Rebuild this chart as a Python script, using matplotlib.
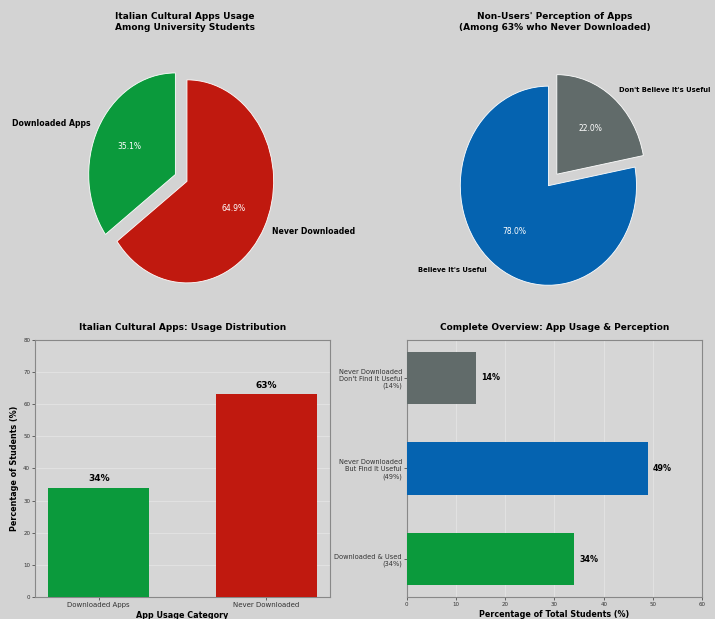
import matplotlib
matplotlib.use("Agg")
import matplotlib.pyplot as plt

# Data
usage_labels = ["Downloaded Apps", "Never Downloaded"]
usage_values = [34, 63]
perception_labels = ["Believe It's Useful", "Don't Believe It's Useful"]
perception_values = [78, 22]
overview_labels = ["Downloaded & Used\n(34%)",
                   "Never Downloaded\nBut Find It Useful\n(49%)",
                   "Never Downloaded\nDon't Find It Useful\n(14%)"]
overview_values = [34, 49, 14]

GREEN = "#0b9a3c"
RED = "#c0190f"
BLUE = "#0563b0"
GRAY = "#616b6a"
BG = "#d3d3d3"
AXBG = "#d6d6d6"

plt.rcParams['font.family'] = ['DejaVu Sans']
fig = plt.figure(figsize=(7.15, 6.19), dpi=100, facecolor=BG)

# Pie 1
ax1 = fig.add_axes([0.110, 0.502, 0.303, 0.410])
ax1.set_facecolor(BG)
wedges, texts, autotexts = ax1.pie(
    usage_values, labels=usage_labels, colors=[GREEN, RED], explode=(0.15, 0),
    startangle=90, autopct='%1.1f%%',
    wedgeprops=dict(edgecolor='white', linewidth=0.6),
    textprops=dict(fontsize=5.6, fontweight='bold'))
for t in autotexts:
    t.set_color('white')
    t.set_fontweight('normal')
    t.set_fontsize(5.5)
ax1.set_aspect('auto')
fig.text(185/715, 1-22/619, "Italian Cultural Apps Usage\nAmong University Students",
         ha='center', va='center', fontsize=6.5, fontweight='bold')

# Pie 2
ax2 = fig.add_axes([0.613, 0.499, 0.308, 0.402])
ax2.set_facecolor(BG)
wedges2, texts2, autotexts2 = ax2.pie(
    perception_values, labels=perception_labels, colors=[BLUE, GRAY], explode=(0, 0.15),
    startangle=90, autopct='%1.1f%%',
    wedgeprops=dict(edgecolor='white', linewidth=0.6),
    textprops=dict(fontsize=4.9, fontweight='bold'))
for t in autotexts2:
    t.set_color('white')
    t.set_fontweight('normal')
    t.set_fontsize(5.5)
ax2.set_aspect('auto')
fig.text(555/715, 1-22/619, "Non-Users' Perception of Apps\n(Among 63% who Never Downloaded)",
         ha='center', va='center', fontsize=6.5, fontweight='bold')

# Bar chart
ax3 = fig.add_axes([0.049, 0.0355, 0.4125, 0.4155])
ax3.set_facecolor(AXBG)
bars = ax3.bar(usage_labels, usage_values, color=[GREEN, RED], width=0.6, zorder=3)
for b, v in zip(bars, usage_values):
    ax3.text(b.get_x() + b.get_width()/2, v + 1.5, f"{v}%", ha='center', va='bottom',
             fontsize=6.5, fontweight='bold')
ax3.set_ylim(0, 80)
ax3.set_title("Italian Cultural Apps: Usage Distribution", fontsize=6.5, fontweight='bold', pad=7)
ax3.set_ylabel("Percentage of Students (%)", fontsize=5.8, fontweight='bold', labelpad=3)
ax3.set_xlabel("App Usage Category", fontsize=5.8, fontweight='bold', labelpad=2)
ax3.tick_params(axis='x', labelsize=5, length=2, width=0.5, pad=1.5, colors='#333333')
ax3.tick_params(axis='y', labelsize=4, length=2, width=0.5, pad=1.5, colors='#333333')
ax3.yaxis.grid(True, color='#e6e6e6', linewidth=0.5, zorder=0)
for s in ax3.spines.values():
    s.set_color('#888888')
    s.set_linewidth(0.8)

# Horizontal bars
ax4 = fig.add_axes([0.569, 0.0355, 0.413, 0.4155])
ax4.set_facecolor(AXBG)
hb = ax4.barh(overview_labels, overview_values, color=[GREEN, BLUE, GRAY], height=0.58, zorder=3)
for b, v in zip(hb, overview_values):
    ax4.text(v + 1, b.get_y() + b.get_height()/2, f"{v}%", ha='left', va='center',
             fontsize=5.8, fontweight='bold')
ax4.set_xlim(0, 60)
ax4.set_title("Complete Overview: App Usage & Perception", fontsize=6.5, fontweight='bold', pad=7)
ax4.set_xlabel("Percentage of Total Students (%)", fontsize=5.8, fontweight='bold', labelpad=2)
ax4.tick_params(axis='y', labelsize=4.8, length=2, width=0.5, pad=1.5, colors='#333333')
ax4.tick_params(axis='x', labelsize=4, length=2, width=0.5, pad=1.5, colors='#333333')
ax4.xaxis.grid(True, color='#e6e6e6', linewidth=0.5, zorder=0)
for s in ax4.spines.values():
    s.set_color('#888888')
    s.set_linewidth(0.8)

fig.savefig("out.png", dpi=100, facecolor=BG)
